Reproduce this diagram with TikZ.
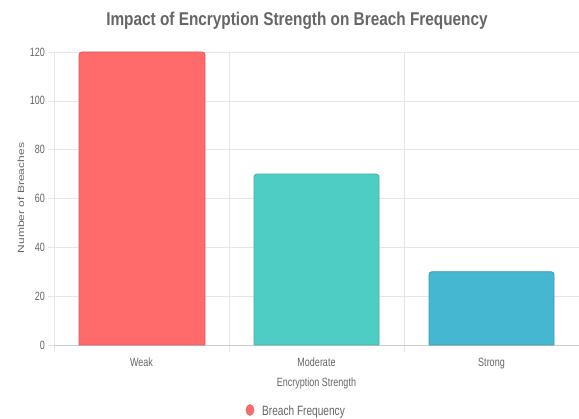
\documentclass[tikz,border=0pt]{standalone}
\usepackage{fontspec}
\setmainfont{Liberation Sans}
\definecolor{txtgray}{HTML}{666666}
\definecolor{gridgray}{HTML}{E6E6E6}
\definecolor{weakred}{HTML}{FF6B6B}
\definecolor{modteal}{HTML}{4ECDC4}
\definecolor{strongblue}{HTML}{45B7D1}
\tikzset{
  squeeze/.style={xscale=0.75, transform shape},
  lbl/.style={squeeze, text=txtgray, inner sep=0pt, font=\fontsize{12}{14}\selectfont},
  bar/.style={fill=#1, draw=#1!85!black, line width=0.8pt}
}
\begin{document}
\begin{tikzpicture}[x=1pt, y=-1pt]
\useasboundingbox[fill=white] (0,0) rectangle (579,419);
% grid lines and ticks
\foreach \v in {0,20,...,120}
{
    \draw[gridgray] (48,345-\v*2.4417)--(579,345-\v*2.4417);
    \node[lbl, anchor=east] at (45,345-\v*2.4417){\v};
}
\foreach \x in {54,229,404}
{
    \draw[gridgray] (\x,52)--(\x,352);
}
\draw[gray!40] (54,345)--(579,345);
% bars
\path[bar=weakred] (79,345) [rounded corners=3]-- (79,52) -- (205,52) [sharp corners]-- (205,345) -- cycle;
\path[bar=modteal] (254,345) [rounded corners=3]-- (254,174.1) -- (379,174.1) [sharp corners]-- (379,345) -- cycle;
\path[bar=strongblue] (429,345) [rounded corners=3]-- (429,271.7) -- (554,271.7) [sharp corners]-- (554,345) -- cycle;
% labels
\node[lbl, anchor=base] (weak) at (141.5,366.5){Weak};
\node[lbl, anchor=base] (moderate) at (316.5,366.5){Moderate};
\node[lbl, anchor=base] (strong) at (491.5,366.5){Strong};
\node[lbl, anchor=base] (xtitle) at (316.5,386.5){Encryption Strength};
\node[text=txtgray, inner sep=0pt, font=\fontsize{12}{14}\selectfont, xscale=0.75, rotate=90, transform shape] (ytitle) at (21,198){Number of Breaches};
\node[xscale=0.83, transform shape, anchor=base, text=txtgray, inner sep=0pt, font=\bfseries\fontsize{18.5}{20}\selectfont] (title) at (297,26){Impact of Encryption Strength on Breach Frequency};
% legend
\node[circle, squeeze, fill=weakred, draw=weakred!85!black, minimum size=11pt, inner sep=0pt] (dot) at (250,410){};
\node[lbl, anchor=base west, font=\fontsize{13.5}{15}\selectfont] (legend) at (262,415.5){Breach Frequency};
\end{tikzpicture}
\end{document}
